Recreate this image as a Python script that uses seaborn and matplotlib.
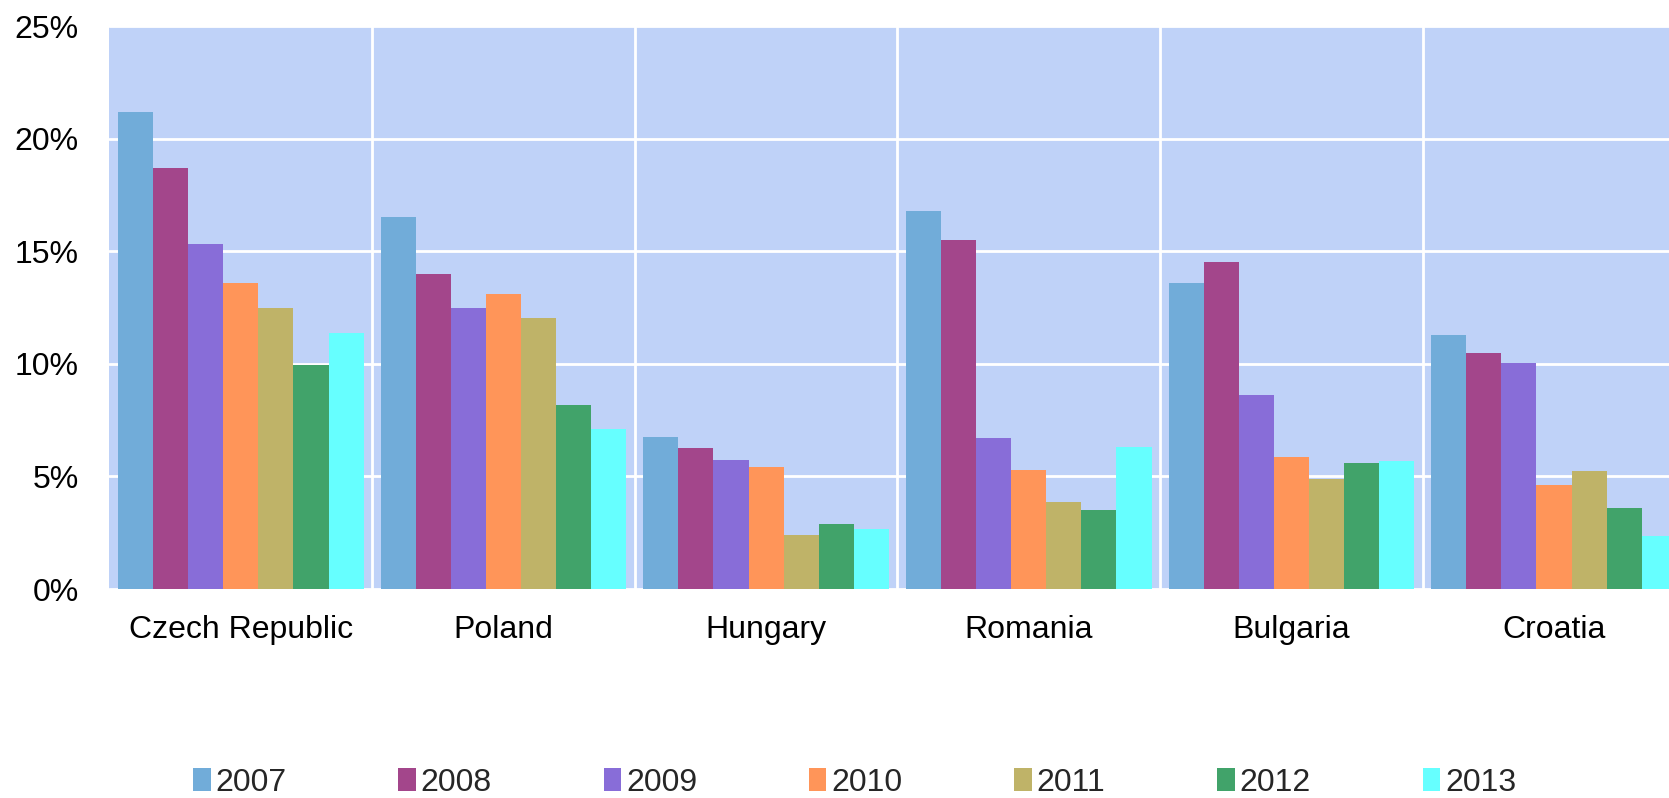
import numpy as np
import pandas as pd
import matplotlib
matplotlib.use("Agg")
import matplotlib.pyplot as plt
import seaborn as sns
from matplotlib.ticker import FuncFormatter, FixedLocator

countries = ["Czech Republic", "Poland", "Hungary", "Romania", "Bulgaria", "Croatia"]
years = ["2007", "2008", "2009", "2010", "2011", "2012", "2013"]

# share (%) per country, one list per year
v2007 = [21.2, 16.5, 6.75, 16.8, 13.6, 11.3]
v2008 = [18.7, 14.0, 6.25, 15.5, 14.5, 10.5]
v2009 = [15.3, 12.5, 5.75, 6.7, 8.6, 10.05]
v2010 = [13.6, 13.1, 5.4, 5.3, 5.85, 4.6]
v2011 = [12.5, 12.05, 2.4, 3.85, 4.9, 5.25]
v2012 = [9.95, 8.15, 2.9, 3.5, 5.6, 3.6]
v2013 = [11.35, 7.1, 2.65, 6.3, 5.7, 2.35]

series = [v2007, v2008, v2009, v2010, v2011, v2012, v2013]
colors = ["#71ACD9", "#A3468B", "#886DD8", "#FF9559", "#BFB368", "#41A36A", "#66FFFF"]
yticks = [0, 5, 10, 15, 20, 25]

df = pd.DataFrame(
    [(c, y, v) for y, vals in zip(years, series) for c, v in zip(countries, vals)],
    columns=["country", "year", "value"],
)

sns.set_theme(style="white")
plt.rcParams["font.family"] = ["Liberation Sans", "DejaVu Sans"]

fig = plt.figure(figsize=(16.69, 7.98), dpi=100)
ax = fig.add_axes([0.0656, 0.2619, 0.9442, 0.7055])
ax.set_facecolor("#BFD2F8")

sns.barplot(
    data=df, x="country", y="value", hue="year", order=countries, hue_order=years,
    palette=colors, width=0.935, saturation=1, linewidth=0, ax=ax,
)

ax.set_xlim(-0.5, len(countries) - 0.5)
ax.set_ylim(0, 25)
ax.set_yticks(yticks)
ax.yaxis.set_major_formatter(FuncFormatter(lambda v, p: f"{v:.0f}%"))
ax.xaxis.set_minor_locator(FixedLocator(np.arange(0.5, len(countries) - 0.5, 1.0)))

ax.grid(False)
ax.yaxis.grid(True, color="white", linewidth=2)
ax.xaxis.grid(True, which="minor", color="white", linewidth=2)
ax.set_axisbelow(True)

for s in ax.spines.values():
    s.set_visible(False)

ax.set_xlabel("")
ax.set_ylabel("")
ax.tick_params(axis="x", which="both", length=0, pad=19, labelsize=23, labelcolor="black")
ax.tick_params(axis="y", length=0, pad=22, labelsize=23, labelcolor="black")

leg = ax.legend_
if leg is not None:
    leg.remove()
handles, labels = ax.get_legend_handles_labels()
fig.legend(
    handles, labels, loc="center", bbox_to_anchor=(0.512, 0.019), ncol=7,
    frameon=False, fontsize=23, handlelength=0.55, handleheight=0.7,
    handletextpad=0.15, columnspacing=3.5, borderpad=0,
)

fig.savefig("out.png", dpi=100)
